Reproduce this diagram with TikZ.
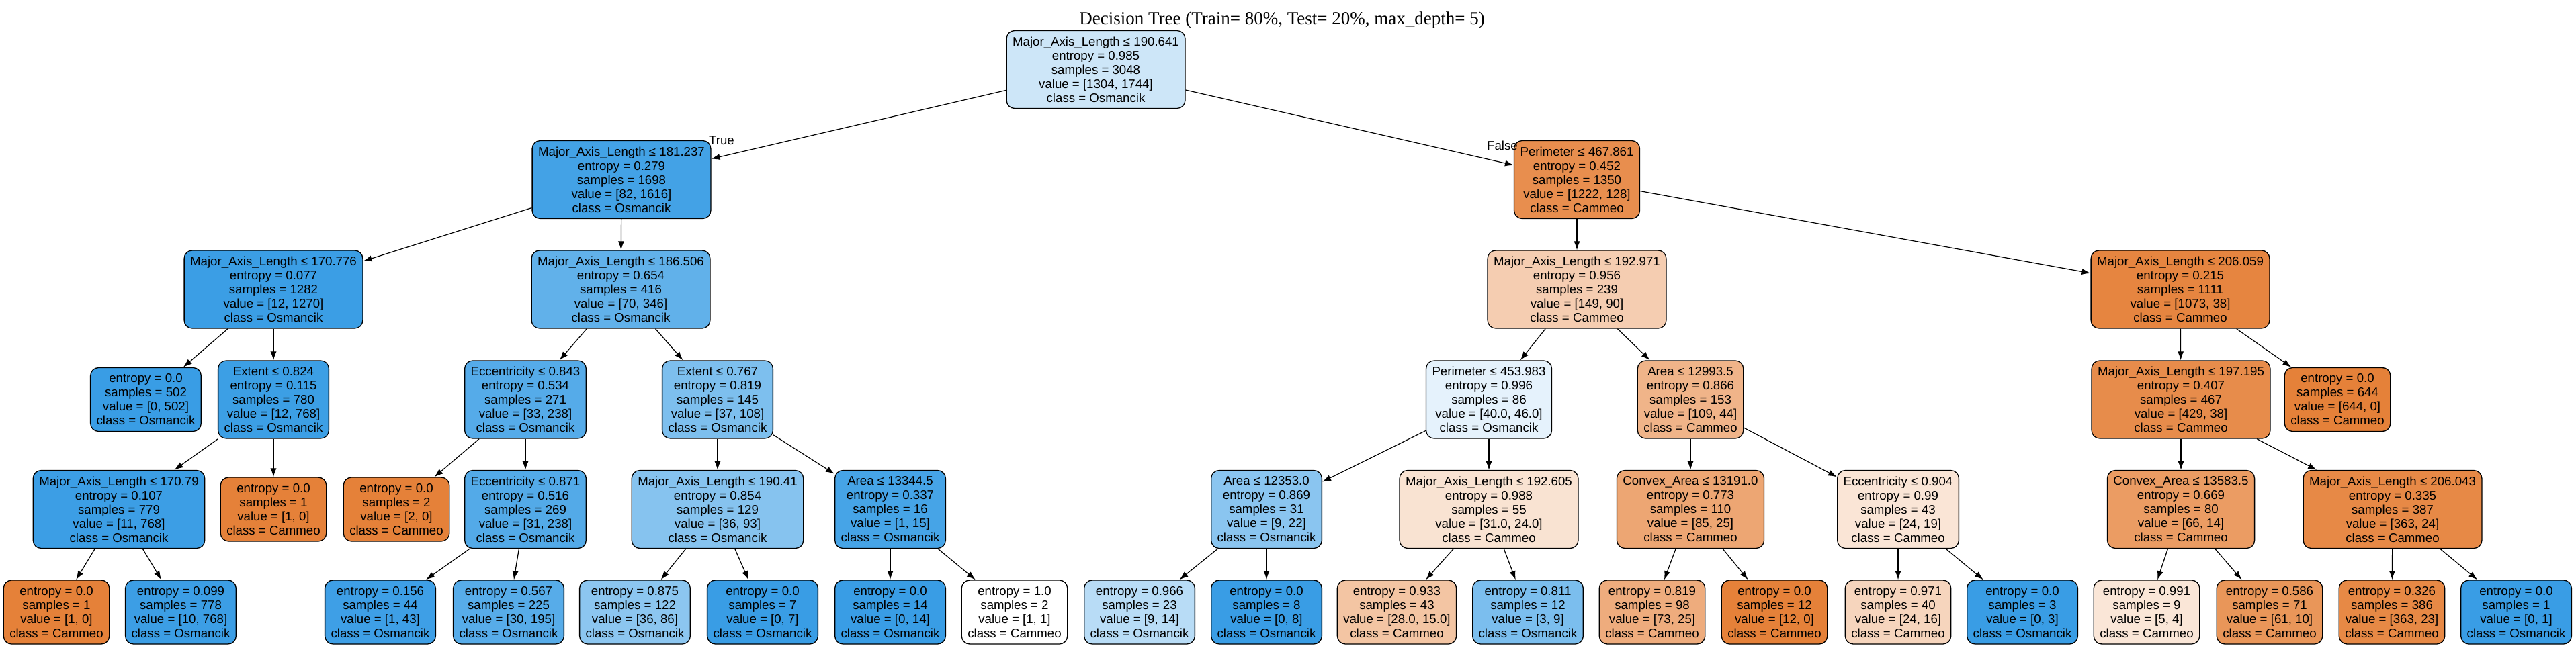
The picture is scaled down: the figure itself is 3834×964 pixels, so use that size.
\documentclass[tikz,border=0pt]{standalone}
\usepackage{fontspec}
\setmainfont{Liberation Serif}
\newfontfamily\nodefont{Liberation Sans}
\usetikzlibrary{arrows.meta}
\definecolor{cO}{RGB}{229,129,57}
\definecolor{cB}{RGB}{57,157,229}
\begin{document}
\begin{tikzpicture}[x=0.5pt,y=-0.5pt,
  tn/.style={draw=black, line width=0.65pt, rounded corners=6pt, align=center,
    inner xsep=4.5pt, inner ysep=2pt, font={\nodefont\fontsize{9.33pt}{10.5pt}\selectfont}},
  inode/.style={tn, minimum height=58pt},
  lnode/.style={tn, minimum height=47.5pt},
  conn/.style={-{Latex[length=6.5pt,width=4.6pt]}, line width=0.6pt},
  lbl/.style={inner sep=0pt, font={\nodefont\fontsize{9.33pt}{10.5pt}\selectfont}}]
\useasboundingbox (0,0) rectangle (3834,964);
\fill[white] (0,0) rectangle (3834,964);
\node[inner sep=0pt, font={\fontsize{13.5pt}{15pt}\selectfont}] (title) at (1908,30) {Decision Tree (Train= 80\%, Test= 20\%, max\_depth= 5)};
% level 0
\node[inode, fill=cB!25.2!white] (root) at (1631,103.5) {Major\_Axis\_Length ≤ 190.641\\entropy = 0.985\\samples = 3048\\value = [1304, 1744]\\class = Osmancik};
% level 1
\node[inode, fill=cB!94.9!white] (n1) at (925,267.5) {Major\_Axis\_Length ≤ 181.237\\entropy = 0.279\\samples = 1698\\value = [82, 1616]\\class = Osmancik};
\node[inode, fill=cO!89.5!white] (n2) at (2347,267.5) {Perimeter ≤ 467.861\\entropy = 0.452\\samples = 1350\\value = [1222, 128]\\class = Cammeo};
% level 2
\node[inode, fill=cB!99.1!white] (A) at (407,431) {Major\_Axis\_Length ≤ 170.776\\entropy = 0.077\\samples = 1282\\value = [12, 1270]\\class = Osmancik};
\node[inode, fill=cB!79.8!white] (B) at (924,431) {Major\_Axis\_Length ≤ 186.506\\entropy = 0.654\\samples = 416\\value = [70, 346]\\class = Osmancik};
\node[inode, fill=cO!39.6!white] (C) at (2347,431) {Major\_Axis\_Length ≤ 192.971\\entropy = 0.956\\samples = 239\\value = [149, 90]\\class = Cammeo};
\node[inode, fill=cO!96.5!white] (D) at (3245,431) {Major\_Axis\_Length ≤ 206.059\\entropy = 0.215\\samples = 1111\\value = [1073, 38]\\class = Cammeo};
% level 3
\node[lnode, fill=cB] (A1) at (217,595) {entropy = 0.0\\samples = 502\\value = [0, 502]\\class = Osmancik};
\node[inode, fill=cB!98.4!white] (A2) at (407,595) {Extent ≤ 0.824\\entropy = 0.115\\samples = 780\\value = [12, 768]\\class = Osmancik};
\node[inode, fill=cB!86.1!white] (B1) at (782,595) {Eccentricity ≤ 0.843\\entropy = 0.534\\samples = 271\\value = [33, 238]\\class = Osmancik};
\node[inode, fill=cB!65.7!white] (B2) at (1068,595) {Extent ≤ 0.767\\entropy = 0.819\\samples = 145\\value = [37, 108]\\class = Osmancik};
\node[inode, fill=cB!13!white] (C1) at (2216,595) {Perimeter ≤ 453.983\\entropy = 0.996\\samples = 86\\value = [40.0, 46.0]\\class = Osmancik};
\node[inode, fill=cO!59.6!white] (C2) at (2516,595) {Area ≤ 12993.5\\entropy = 0.866\\samples = 153\\value = [109, 44]\\class = Cammeo};
\node[inode, fill=cO!91.1!white] (D1) at (3246,595) {Major\_Axis\_Length ≤ 197.195\\entropy = 0.407\\samples = 467\\value = [429, 38]\\class = Cammeo};
\node[lnode, fill=cO] (D2) at (3479,595) {entropy = 0.0\\samples = 644\\value = [644, 0]\\class = Cammeo};
% level 4
\node[inode, fill=cB!98.6!white] (A2a) at (177,758.5) {Major\_Axis\_Length ≤ 170.79\\entropy = 0.107\\samples = 779\\value = [11, 768]\\class = Osmancik};
\node[lnode, fill=cO] (A2b) at (407,758.5) {entropy = 0.0\\samples = 1\\value = [1, 0]\\class = Cammeo};
\node[lnode, fill=cO] (B1a) at (590,758.5) {entropy = 0.0\\samples = 2\\value = [2, 0]\\class = Cammeo};
\node[inode, fill=cB!87!white] (B1b) at (782,758.5) {Eccentricity ≤ 0.871\\entropy = 0.516\\samples = 269\\value = [31, 238]\\class = Osmancik};
\node[inode, fill=cB!61.3!white] (B2a) at (1068,758.5) {Major\_Axis\_Length ≤ 190.41\\entropy = 0.854\\samples = 129\\value = [36, 93]\\class = Osmancik};
\node[inode, fill=cB!93.3!white] (B2b) at (1325,758.5) {Area ≤ 13344.5\\entropy = 0.337\\samples = 16\\value = [1, 15]\\class = Osmancik};
\node[inode, fill=cB!59.1!white] (C1a) at (1885,758.5) {Area ≤ 12353.0\\entropy = 0.869\\samples = 31\\value = [9, 22]\\class = Osmancik};
\node[inode, fill=cO!22.6!white] (C1b) at (2216,758.5) {Major\_Axis\_Length ≤ 192.605\\entropy = 0.988\\samples = 55\\value = [31.0, 24.0]\\class = Cammeo};
\node[inode, fill=cO!70.6!white] (C2a) at (2516,758.5) {Convex\_Area ≤ 13191.0\\entropy = 0.773\\samples = 110\\value = [85, 25]\\class = Cammeo};
\node[inode, fill=cO!20.8!white] (C2b) at (2825,758.5) {Eccentricity ≤ 0.904\\entropy = 0.99\\samples = 43\\value = [24, 19]\\class = Cammeo};
\node[inode, fill=cO!78.8!white] (D1a) at (3246,758.5) {Convex\_Area ≤ 13583.5\\entropy = 0.669\\samples = 80\\value = [66, 14]\\class = Cammeo};
\node[inode, fill=cO!93.4!white] (D1b) at (3561,758.5) {Major\_Axis\_Length ≤ 206.043\\entropy = 0.335\\samples = 387\\value = [363, 24]\\class = Cammeo};
% level 5
\node[lnode, fill=cO] (a) at (84,911.5) {entropy = 0.0\\samples = 1\\value = [1, 0]\\class = Cammeo};
\node[lnode, fill=cB!98.7!white] (b) at (269,911.5) {entropy = 0.099\\samples = 778\\value = [10, 768]\\class = Osmancik};
\node[lnode, fill=cB!97.7!white] (c) at (566,911.5) {entropy = 0.156\\samples = 44\\value = [1, 43]\\class = Osmancik};
\node[lnode, fill=cB!84.6!white] (d) at (757,911.5) {entropy = 0.567\\samples = 225\\value = [30, 195]\\class = Osmancik};
\node[lnode, fill=cB!58.1!white] (e) at (945,911.5) {entropy = 0.875\\samples = 122\\value = [36, 86]\\class = Osmancik};
\node[lnode, fill=cB] (f) at (1135,911.5) {entropy = 0.0\\samples = 7\\value = [0, 7]\\class = Osmancik};
\node[lnode, fill=cB] (g) at (1325,911.5) {entropy = 0.0\\samples = 14\\value = [0, 14]\\class = Osmancik};
\node[lnode, fill=white] (h) at (1510,911.5) {entropy = 1.0\\samples = 2\\value = [1, 1]\\class = Cammeo};
\node[lnode, fill=cB!35.7!white] (i) at (1696,911.5) {entropy = 0.966\\samples = 23\\value = [9, 14]\\class = Osmancik};
\node[lnode, fill=cB] (j) at (1885,911.5) {entropy = 0.0\\samples = 8\\value = [0, 8]\\class = Osmancik};
\node[lnode, fill=cO!46.4!white] (k) at (2079,911.5) {entropy = 0.933\\samples = 43\\value = [28.0, 15.0]\\class = Cammeo};
\node[lnode, fill=cB!66.7!white] (l) at (2274,911.5) {entropy = 0.811\\samples = 12\\value = [3, 9]\\class = Osmancik};
\node[lnode, fill=cO!65.8!white] (m) at (2459,911.5) {entropy = 0.819\\samples = 98\\value = [73, 25]\\class = Cammeo};
\node[lnode, fill=cO] (n) at (2641,911.5) {entropy = 0.0\\samples = 12\\value = [12, 0]\\class = Cammeo};
\node[lnode, fill=cO!33.3!white] (o) at (2825,911.5) {entropy = 0.971\\samples = 40\\value = [24, 16]\\class = Cammeo};
\node[lnode, fill=cB] (p) at (3010,911.5) {entropy = 0.0\\samples = 3\\value = [0, 3]\\class = Osmancik};
\node[lnode, fill=cO!20!white] (q) at (3195,911.5) {entropy = 0.991\\samples = 9\\value = [5, 4]\\class = Cammeo};
\node[lnode, fill=cO!83.6!white] (r) at (3378,911.5) {entropy = 0.586\\samples = 71\\value = [61, 10]\\class = Cammeo};
\node[lnode, fill=cO!93.7!white] (s) at (3560,911.5) {entropy = 0.326\\samples = 386\\value = [363, 23]\\class = Cammeo};
\node[lnode, fill=cB] (t) at (3745,911.5) {entropy = 0.0\\samples = 1\\value = [0, 1]\\class = Osmancik};
% edges
\draw[conn] (root) -- (n1);
\draw[conn] (root) -- (n2);
\draw[conn] (n1) -- (A);
\draw[conn] (n1) -- (B);
\draw[conn] (n2) -- (C);
\draw[conn] (n2) -- (D);
\draw[conn] (A) -- (A1);
\draw[conn] (A) -- (A2);
\draw[conn] (B) -- (B1);
\draw[conn] (B) -- (B2);
\draw[conn] (C) -- (C1);
\draw[conn] (C) -- (C2);
\draw[conn] (D) -- (D1);
\draw[conn] (D) -- (D2);
\draw[conn] (A2) -- (A2a);
\draw[conn] (A2) -- (A2b);
\draw[conn] (B1) -- (B1a);
\draw[conn] (B1) -- (B1b);
\draw[conn] (B2) -- (B2a);
\draw[conn] (B2) -- (B2b);
\draw[conn] (C1) -- (C1a);
\draw[conn] (C1) -- (C1b);
\draw[conn] (C2) -- (C2a);
\draw[conn] (C2) -- (C2b);
\draw[conn] (D1) -- (D1a);
\draw[conn] (D1) -- (D1b);
\draw[conn] (A2a) -- (a);
\draw[conn] (A2a) -- (b);
\draw[conn] (B1b) -- (c);
\draw[conn] (B1b) -- (d);
\draw[conn] (B2a) -- (e);
\draw[conn] (B2a) -- (f);
\draw[conn] (B2b) -- (g);
\draw[conn] (B2b) -- (h);
\draw[conn] (C1a) -- (i);
\draw[conn] (C1a) -- (j);
\draw[conn] (C1b) -- (k);
\draw[conn] (C1b) -- (l);
\draw[conn] (C2a) -- (m);
\draw[conn] (C2a) -- (n);
\draw[conn] (C2b) -- (o);
\draw[conn] (C2b) -- (p);
\draw[conn] (D1a) -- (q);
\draw[conn] (D1a) -- (r);
\draw[conn] (D1b) -- (s);
\draw[conn] (D1b) -- (t);
\node[lbl] (tlab) at (1074,209) {True};
\node[lbl] (flab) at (2236,217) {False};
\end{tikzpicture}
\end{document}
